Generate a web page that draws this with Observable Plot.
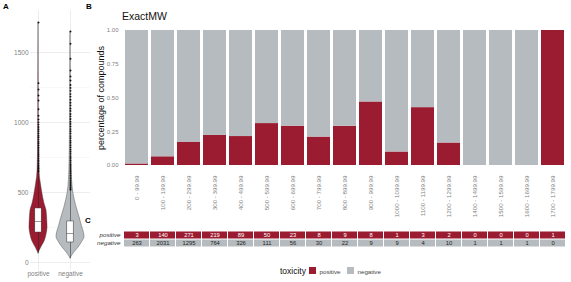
<!DOCTYPE html>
<html>
<head>
<meta charset="utf-8">
<script src="https://cdn.jsdelivr.net/npm/d3@7"></script>
<script src="https://cdn.jsdelivr.net/npm/@observablehq/plot@0.6"></script>
<style>
  body { margin: 0; background: white; font-family: "Liberation Sans", Arial, sans-serif; }
  #chart { position: relative; width: 571px; height: 282px; overflow: hidden; }
  #chart svg { position: absolute; left: 0; top: 0; }
  .lbl { position: absolute; white-space: nowrap; line-height: 1; }
  .panel { font-weight: bold; font-size: 8px; color: #000; }
</style>
</head>
<body>
<div id="chart">
  <div class="lbl panel" style="left:3px;top:3px">A</div>
  <div class="lbl panel" style="left:86px;top:3px">B</div>
  <div class="lbl panel" style="left:85px;top:217px">C</div>
  <div class="lbl" style="left:122px;top:11px;font-size:10.5px;color:#111">ExactMW</div>
  <div class="lbl" style="left:280px;top:267px;font-size:8.5px;color:#111">toxicity</div>
  <div class="lbl" style="left:309px;top:267px;width:7px;height:7px;background:#9b1b30"></div>
  <div class="lbl" style="left:319.5px;top:268.5px;font-size:6.2px;color:#444">positive</div>
  <div class="lbl" style="left:347px;top:267px;width:7px;height:7px;background:#b5bbbe"></div>
  <div class="lbl" style="left:357.5px;top:268.5px;font-size:6.2px;color:#444">negative</div>
</div>
<script>
// ---- data ----
const toxicity = ["positive", "negative"];
// the 1300 - 1399.99 bin is absent in the reference
const bins = ["0 - 99.99","100 - 199.99","200 - 299.99","300 - 399.99","400 - 499.99","500 - 599.99",
  "600 - 699.99","700 - 799.99","800 - 899.99","900 - 999.99","1000 - 1099.99","1100 - 1199.99",
  "1200 - 1299.99","1400 - 1499.99","1500 - 1599.99","1600 - 1699.99","1700 - 1799.99"];
const positiveCounts = [3,140,271,219,89,50,23,8,9,8,1,3,2,0,0,0,1];
const negativeCounts = [263,2031,1295,764,326,111,56,30,22,9,9,4,10,1,1,1,0];

// violin densities (relative)
const posDensMW = [64,100,157,200,250,300,370,420,490,560,610,700,800,1000,1300,1714];
const posDens   = [0,0.16,0.45,0.56,0.63,0.61,0.56,0.42,0.28,0.17,0.10,0.05,0.03,0.02,0.014,0];
const negDensMW = [29,64,107,150,180,210,250,300,330,395,450,490,536,600,700,800,1000,1200,1400,1650];
const negDens   = [0,0.21,0.56,0.83,0.97,0.94,0.82,0.69,0.61,0.42,0.29,0.21,0.15,0.10,0.07,0.05,0.035,0.02,0.014,0];
// box statistics [min whisker, q1, median, q3, max whisker]
const posBox = [64, 214, 293, 386, 640];
const negBox = [29, 143, 207, 293, 515];
// outliers
const posOutliers = [1714,1281,1236,1193,1157,1095,1048,1022,1001,985,968,952,937,921,905,893,878,862,850,836,
  822,810,797,783,770,758,744,731,719,706,694,682,671,660,650];
const negOutliers = [1650,1562,1455,1371,1329,1300,1268,1247,1226,1203,1185,1162,1141,1122,1100,1083,1061,1044,
  1025,1006,990,971,953,938,921,903,887,870,855,838,822,806,791,776,760,746,731,717,702,689,675,661,648,
  636,622,610,598,585,573,561,549,538,527,520];

const red = "#9b1b30", grey = "#b5bbbe";
const font = "'Liberation Sans', Arial, sans-serif";

// ---- panel A ----
const violins = [
  ...posDensMW.map((v, i) => ({g: 1, v, d: posDens[i], tox: "positive"})),
  ...negDensMW.map((v, i) => ({g: 2, v, d: negDens[i], tox: "negative"}))
];
const boxes = [posBox, negBox].map((b, i) => ({g: i + 1, lo: b[0], q1: b[1], med: b[2], q3: b[3], hi: b[4]}));
const outliers = [...posOutliers.map(v => ({g: 1, v})), ...negOutliers.map(v => ({g: 2, v}))];

const A = Plot.plot({
  width: 92, height: 282, marginLeft: 30, marginRight: 2, marginTop: 10, marginBottom: 12,
  style: {background: "transparent", fontFamily: font, color: "#7f7f7f", overflow: "visible"},
  x: {domain: [1, 2], range: [38, 70]},
  y: {domain: [0, 1500], range: [262, 52]},
  color: {domain: toxicity, range: [red, grey]},
  marks: [
    Plot.gridY({ticks: [250, 750, 1250], stroke: "#f0f0f0", strokeOpacity: 1, strokeWidth: 0.5}),
    Plot.gridY({ticks: [0, 500, 1000, 1500], stroke: "#e8e8e8", strokeOpacity: 1, strokeWidth: 0.8}),
    Plot.gridX({ticks: [1, 2], stroke: "#e8e8e8", strokeOpacity: 1, strokeWidth: 0.8}),
    Plot.areaX(violins, {z: "g", y: "v", x1: d => d.g - d.d * 0.45, x2: d => d.g + d.d * 0.45,
      fill: "tox", stroke: "#3a3a3a", strokeWidth: 0.4, curve: "monotone-y"}),
    Plot.ruleX(boxes, {x: "g", y1: "q3", y2: "hi", stroke: "#222", strokeWidth: 0.5}),
    Plot.ruleX(boxes, {x: "g", y1: "lo", y2: "q1", stroke: "#222", strokeWidth: 0.5}),
    Plot.dot(outliers, {x: "g", y: "v", r: 0.95, fill: "#111", stroke: null}),
    Plot.rect(boxes, {x1: d => d.g - 0.1, x2: d => d.g + 0.1, y1: "q1", y2: "q3", fill: "white", stroke: "#333", strokeWidth: 0.5}),
    Plot.ruleY(boxes, {y: "med", x1: d => d.g - 0.1, x2: d => d.g + 0.1, stroke: "#333", strokeWidth: 0.5}),
    Plot.axisY({ticks: [0, 500, 1000, 1500], tickFormat: d3.format("d"), tickSize: 0, tickPadding: 2, fontSize: 6.5, label: null}),
    Plot.axisX({ticks: [1, 2], tickFormat: d => toxicity[d - 1], tickSize: 0, tickPadding: 1, fontSize: 6.5, label: null})
  ]
});

// ---- panel B ----
const long = [];
bins.forEach((b, i) => {
  long.push({bin: b, tox: "positive", count: positiveCounts[i]});
  long.push({bin: b, tox: "negative", count: negativeCounts[i]});
});

const xScale = {domain: bins, range: [122, 568], padding: 0.115};

const B = Plot.plot({
  width: 571, height: 282, marginLeft: 122, marginRight: 3, marginTop: 30, marginBottom: 117,
  style: {background: "transparent", fontFamily: font, color: "#7f7f7f", overflow: "visible"},
  x: xScale,
  y: {domain: [0, 1], range: [165, 30]},
  color: {domain: toxicity, range: [red, grey]},
  marks: [
    Plot.barY(long, {x: "bin", y: "count", fill: "tox", offset: "normalize", order: toxicity}),
    Plot.axisY({ticks: [0, 0.25, 0.5, 0.75, 1], tickFormat: d3.format(".2f"), tickSize: 0, tickPadding: 4, fontSize: 6, label: null}),
    Plot.axisX({tickRotate: -90, tickSize: 0, tickPadding: 10, fontSize: 6.2, label: null}),
    Plot.text(["percentage of compounds"], {frameAnchor: "left", text: d => d, rotate: -90, dx: -21,
      textAnchor: "middle", fontSize: 9, fill: "#111"})
  ]
});

// ---- panel C ----
const C = Plot.plot({
  width: 571, height: 282, marginLeft: 122, marginRight: 3, marginTop: 230, marginBottom: 35,
  style: {background: "transparent", fontFamily: font, color: "#333", overflow: "visible"},
  x: {...xScale, axis: null},
  y: {domain: toxicity, range: [230, 247], padding: 0},
  color: {domain: toxicity, range: [red, grey]},
  marks: [
    Plot.cell(long, {x: "bin", y: "tox", fill: "tox", insetLeft: -1, insetRight: -1, insetTop: 0.5, insetBottom: 0.5}),
    Plot.text(long, {filter: d => d.tox === "positive", x: "bin", y: "tox", text: d => String(d.count), fill: "white", fontSize: 5.8}),
    Plot.text(long, {filter: d => d.tox === "negative", x: "bin", y: "tox", text: d => String(d.count), fill: "#222", fontSize: 5.8}),
    Plot.axisY({tickSize: 0, tickPadding: 2, fontSize: 6.2, fontStyle: "italic", label: null})
  ]
});

const chart = document.getElementById("chart");
chart.prepend(C);
chart.prepend(B);
chart.prepend(A);
</script>
</body>
</html>
